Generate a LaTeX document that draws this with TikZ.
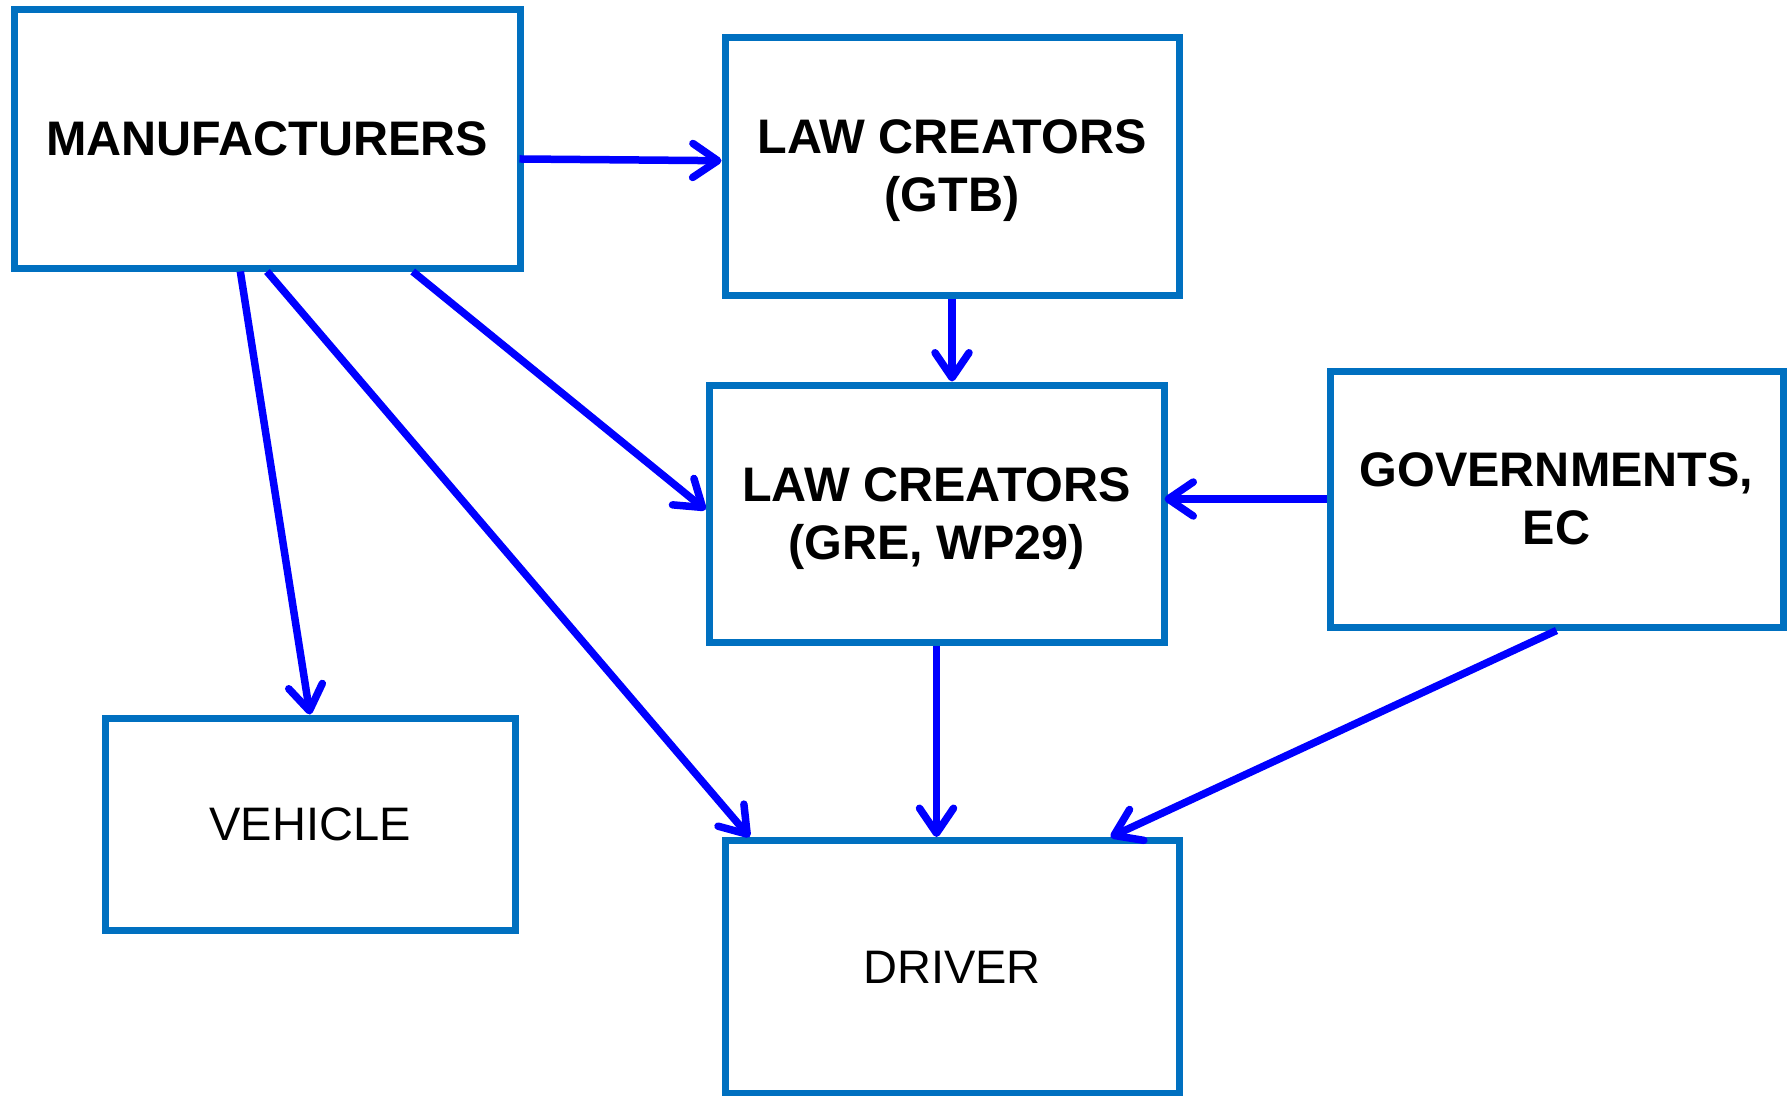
\documentclass[tikz,border=0pt]{standalone}
\usepackage{fontspec}
\setmainfont{Liberation Sans}
\usetikzlibrary{arrows.meta,calc}
\definecolor{boxblue}{HTML}{0070C0}
\definecolor{arrowblue}{HTML}{0000FF}
\begin{document}
\begin{tikzpicture}[x=1pt,y=-1pt,
  box/.style={draw=boxblue, line width=7pt, rectangle, inner sep=0pt, align=center, text=black},
  bold/.style={font=\fontsize{48.5}{58}\selectfont\bfseries},
  plain/.style={font=\fontsize{47}{58}\selectfont},
  link/.style={draw=arrowblue, line width=7.5pt, -{Straight Barb[length=25pt,width=34pt,round]}}]
\useasboundingbox (0,0) rectangle (1788,1095);

% boxes
\node[box, bold, minimum width=506pt, minimum height=259pt] (manu) at (267,138.5) {MANUFACTURERS};
\node[box, bold, minimum width=454pt, minimum height=258pt] (gtb) at (952,166) {LAW CREATORS\\\smash{(GTB)}};
\node[box, bold, minimum width=455pt, minimum height=257pt] (gre) at (936.5,513.5) {LAW CREATORS\\\smash{(GRE, WP29)}};
\node[box, bold, minimum width=453pt, minimum height=256pt] (gov) at (1556.5,499) {GOVERNMENTS,\\EC};
\node[box, plain, minimum width=410pt, minimum height=212pt] (veh) at (310,824) {VEHICLE};
\node[box, plain, minimum width=454pt, minimum height=253pt] (drv) at (952,967) {DRIVER};

% connectors
\draw[link] ($(manu.north east)!0.577!(manu.south east) + (-4,0)$) -- ($(gtb.north west)!0.48!(gtb.south west)$);
\draw[link] (gtb.south) -- (gtb.south |- gre.north);
\draw[link] ($(manu.south west)!0.784!(manu.south east)$) -- ($(gre.north west)!0.486!(gre.south west)$);
\draw[link] ($(manu.south west)!0.448!(manu.south east)$) -- (veh.north);
\draw[link] (manu.south) -- ($(drv.north west)!0.061!(drv.north east)$);
\draw[link] (gre.south) -- (gre.south |- drv.north);
\draw[link] (gov.west) -- ($(gov.west -| gre.east) + (-3,0)$);
\draw[link] (gov.south) -- ($(drv.north west)!0.844!(drv.north east)$);
\end{tikzpicture}
\end{document}
